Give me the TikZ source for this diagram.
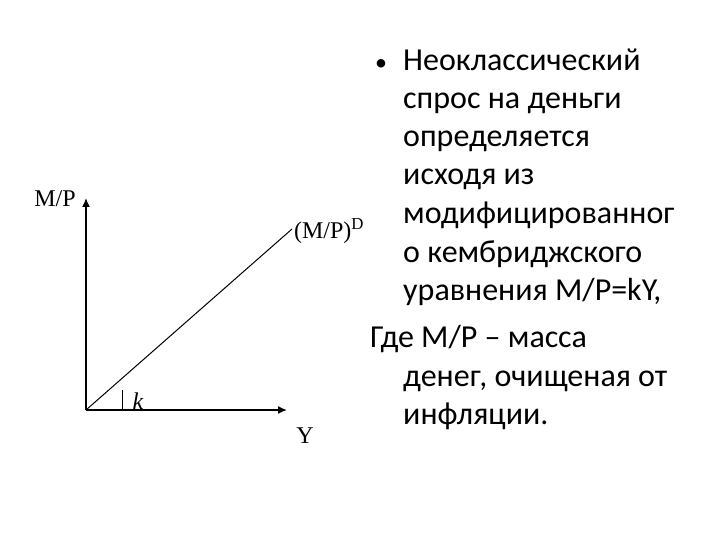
\documentclass[tikz,border=0pt]{standalone}
\usepackage{fontspec}
\setmainfont{Carlito}
\newfontfamily\tnr{Liberation Serif}
\begin{document}
\begin{tikzpicture}[x=1pt,y=-1pt,
  ax/.style={line width=1.5pt,-{Latex[length=9pt,width=8pt]}},
  lbl/.style={font=\tnr\fontsize{24}{27}\selectfont,inner sep=0},
  txt/.style={font=\fontsize{32}{36}\selectfont,anchor=base west,inner sep=0}]
\useasboundingbox (0,0) rectangle (720,540);
\usetikzlibrary{arrows.meta}
\coordinate (o) at (86,410);
\coordinate (yt) at (86,198);
\coordinate (xt) at (287,410);
\coordinate (le) at (292,229);
\draw[ax] (o) -- (yt);
\draw[ax] (o) -- (xt);
\draw[line width=1pt] (o) -- (le);
\coordinate (k1) at (122,390);
\coordinate (k2) at (122,410);
\draw[line width=1pt] (k1) -- (k2);
\node[lbl] (mp) at (55,199) {M/P};
\node[lbl] (mpd) at (329,231) {(M/P)\textsuperscript{D}};
\node[lbl,font=\tnr\itshape\fontsize{24}{27}\selectfont] (k) at (138,401) {k};
\node[lbl] (y) at (305,436) {Y};
\node[txt,font=\fontsize{24}{30}\selectfont] (b) at (375,71) {•};
\node[txt] (t1) at (403,71) {Неоклассический};
\node[txt] (t2) at (403,109) {спрос на деньги};
\node[txt] (t3) at (403,147) {определяется};
\node[txt] (t4) at (403,185) {исходя из};
\node[txt] (t5) at (403,224) {модифицированног};
\node[txt] (t6) at (403,262) {о кембриджского};
\node[txt] (t7) at (403,300) {уравнения M/P=kY,};
\node[txt] (t8) at (370,347) {Где М/Р – масса};
\node[txt] (t9) at (403,386) {денег, очищеная от};
\node[txt] (t10) at (403,424) {инфляции.};
\end{tikzpicture}
\end{document}
